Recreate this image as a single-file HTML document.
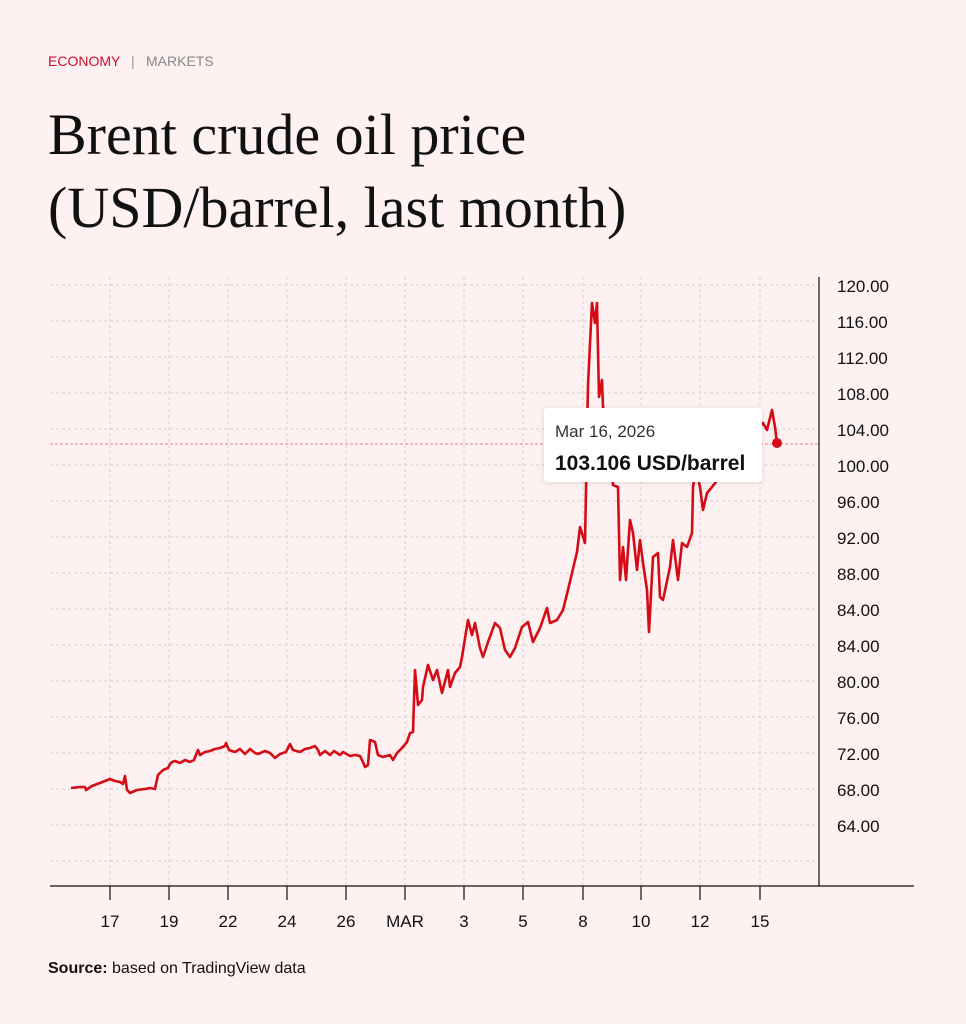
<!DOCTYPE html>
<html><head><meta charset="utf-8"><style>
body{margin:0;background:#fdf1f1;width:966px;height:1024px;overflow:hidden;font-family:"Liberation Sans",Arial,sans-serif}
</style></head><body>
<svg width="966" height="1024" xmlns="http://www.w3.org/2000/svg" style="position:absolute;left:0;top:0">
<rect width="966" height="1024" fill="#fdf1f1"/>
<text x="48" y="66" font-size="14" fill="#c8102e" font-family="Liberation Sans">ECONOMY</text>
<text x="131" y="66" font-size="14" fill="#999" font-family="Liberation Sans">|</text>
<text x="146" y="66" font-size="14" fill="#888" font-family="Liberation Sans">MARKETS</text>
<text x="48" y="154" font-size="58" fill="#111" font-family="Liberation Serif">Brent crude oil price</text>
<text x="48" y="227" font-size="58" fill="#111" font-family="Liberation Serif">(USD/barrel, last month)</text>
<g stroke="#d8d0d0" stroke-width="1" stroke-dasharray="3,3">
<path d="M50 285H819M50 321H819M50 357H819M50 393H819M50 429H819M50 465H819M50 501H819M50 537H819M50 573H819M50 609H819M50 645H819M50 681H819M50 717H819M50 753H819M50 789H819M50 825H819M50 861H819"/>
<path d="M110 277V886M169 277V886M228 277V886M287 277V886M346 277V886M405 277V886M464 277V886M523 277V886M583 277V886M641 277V886M700 277V886M760 277V886"/>
</g>
<line x1="50" y1="444" x2="819" y2="444" stroke="#f08080" stroke-width="1" stroke-dasharray="3,2"/>
<line x1="819" y1="277" x2="819" y2="886" stroke="#111" stroke-width="1.2"/>
<line x1="50" y1="886" x2="914" y2="886" stroke="#111" stroke-width="1.2"/>
<g stroke="#111" stroke-width="1.2"><path d="M110 886V900M169 886V900M228 886V900M287 886V900M346 886V900M405 886V900M464 886V900M523 886V900M583 886V900M641 886V900M700 886V900M760 886V900"/></g>
<g font-size="17" fill="#111" text-anchor="middle" font-family="Liberation Sans">
<text x="110" y="927">17</text><text x="169" y="927">19</text><text x="228" y="927">22</text><text x="287" y="927">24</text><text x="346" y="927">26</text><text x="405" y="927">MAR</text><text x="464" y="927">3</text><text x="523" y="927">5</text><text x="583" y="927">8</text><text x="641" y="927">10</text><text x="700" y="927">12</text><text x="760" y="927">15</text>
</g>
<g font-size="17" fill="#111" font-family="Liberation Sans">
<text x="837" y="292">120.00</text><text x="837" y="328">116.00</text><text x="837" y="364">112.00</text><text x="837" y="400">108.00</text><text x="837" y="436">104.00</text><text x="837" y="472">100.00</text><text x="837" y="508">96.00</text><text x="837" y="544">92.00</text><text x="837" y="580">88.00</text><text x="837" y="616">84.00</text><text x="837" y="652">84.00</text><text x="837" y="688">80.00</text><text x="837" y="724">76.00</text><text x="837" y="760">72.00</text><text x="837" y="796">68.00</text><text x="837" y="832">64.00</text>
</g>
<polyline fill="none" stroke="#d50c16" stroke-width="2.6" stroke-linejoin="round" points="71,788 80,787 85,787 86,790 92,786 97,784 100,783 105,781 110,779 115,781 120,782 123,784 125,776 127,790 130,793 137,790 145,789 150,788 155,789 156,784 158,775 163,770 168,768 170,764 172,762 175,761 180,763 185,760 190,762 194,760 198,750 200,755 205,752 210,751 215,749 220,748 225,746 226,743 229,750 235,752 240,749 245,754 250,749 255,753 258,754 265,751 270,753 275,758 280,754 286,752 290,744 293,750 300,752 305,749 310,748 315,746 318,750 320,755 325,751 330,755 334,751 340,755 343,752 350,756 355,755 360,756 363,762 365,767 368,765 370,740 375,742 378,755 383,757 390,755 393,760 397,753 402,748 407,742 410,733 413,732 415,670 418,705 422,700 423,687 428,665 433,680 437,670 442,693 448,670 450,687 455,673 460,667 462,657 468,620 472,635 475,623 480,648 483,657 488,642 495,623 500,628 505,650 510,657 515,648 522,627 528,622 533,642 540,628 547,608 550,623 557,620 563,610 568,590 572,573 577,552 580,527 585,543 588,385 592,303 595,323 597,303 599,397 602,380 603,407 608,420 612,470 613,485 618,487 620,580 623,547 626,580 630,520 633,533 637,570 640,540 643,563 647,590 649,632 653,557 658,553 660,597 663,600 670,567 673,540 678,580 682,543 687,547 692,533 693,487 696,470 700,487 703,510 707,493 712,487 740,450 763,423 767,430 772,410 775,427 777,443"/>
<circle cx="777" cy="443" r="5" fill="#d50c16"/>
<rect x="544" y="408" width="218" height="74" rx="3" fill="#fff" style="filter:drop-shadow(0 1px 3px rgba(0,0,0,0.12))"/>
<text x="555" y="437" font-size="17" fill="#333" font-family="Liberation Sans">Mar 16, 2026</text>
<text x="555" y="470" font-size="21" font-weight="bold" fill="#111" font-family="Liberation Sans">103.106 USD/barrel</text>
<text x="48" y="973" font-size="16" fill="#111" font-family="Liberation Sans"><tspan font-weight="bold">Source:</tspan> based on TradingView data</text>
</svg>
</body></html>
